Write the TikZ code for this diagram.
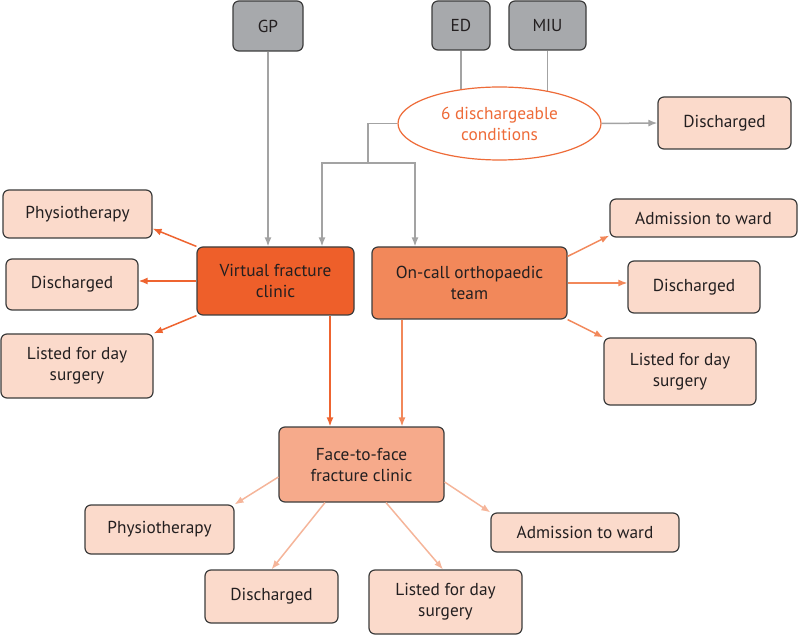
\documentclass[tikz,border=0pt]{standalone}
\usepackage{fontspec}
\setmainfont{PT Sans}
\usetikzlibrary{arrows.meta,shapes.geometric,calc,backgrounds}
\definecolor{txt}{HTML}{231F20}
\definecolor{bord}{HTML}{3C3C3C}
\definecolor{light}{HTML}{FBDACB}
\definecolor{grayfill}{HTML}{A7A9AC}
\definecolor{vfcfill}{HTML}{EE5F2A}
\definecolor{oncfill}{HTML}{F2885A}
\definecolor{ffill}{HTML}{F6AA8B}
\definecolor{gline}{HTML}{A3A3A3}
\definecolor{vline}{HTML}{EE6430}
\definecolor{oline}{HTML}{F2885A}
\definecolor{fline}{HTML}{F5B59A}
\definecolor{ellc}{HTML}{EE6B38}
\tikzset{
  x=1pt,y=-1pt,
  box/.style={draw=bord,line width=1.2pt,rounded corners=6pt,fill=light,text=txt,
    align=center,inner sep=0pt,font=\fontsize{17.3}{21}\selectfont},
  graybox/.style={box,fill=grayfill},
  gl/.style={draw=gline,line width=1.5pt},
  ga/.style={gl,-{Latex[length=9pt,width=7pt]}},
  va/.style={draw=vline,line width=1.5pt,-{Latex[length=9pt,width=7pt]}},
  oa/.style={draw=oline,line width=1.5pt,-{Latex[length=9pt,width=7pt]}},
  fa/.style={draw=fline,line width=1.5pt,-{Latex[length=9pt,width=7pt]}},
}
\begin{document}
\begin{tikzpicture}
\useasboundingbox (0,0) rectangle (798,636);
% top sources
\node[graybox,minimum width=70pt,minimum height=50pt] (gp) at (268,26) {GP};
\node[graybox,minimum width=58pt,minimum height=49pt] (ed) at (461,25.5) {ED};
\node[graybox,minimum width=77pt,minimum height=49pt] (miu) at (547.5,25.5) {MIU};
\node[ellipse,draw=ellc,line width=1.2pt,fill=white,text=ellc,align=center,inner sep=0pt,
  minimum width=203pt,minimum height=73pt,font=\fontsize{17.3}{21}\selectfont] (ell) at (499.5,123.5) {6 dischargeable\\conditions};
\node[box,minimum width=133pt,minimum height=52pt] (dtop) at (724.5,123) {Discharged};
% main
\node[box,fill=vfcfill,minimum width=157pt,minimum height=68pt] (vfc) at (275.5,281) {Virtual fracture\\clinic};
\node[box,fill=oncfill,minimum width=195pt,minimum height=72pt] (onc) at (469.5,283) {On-call orthopaedic\\team};
\node[box,fill=ffill,minimum width=165pt,minimum height=75pt] (f2f) at (361.5,464.5) {Face-to-face\\fracture clinic};
% left outcomes
\node[box,minimum width=149pt,minimum height=48pt] (phys1) at (77.5,214) {Physiotherapy};
\node[box,minimum width=132pt,minimum height=51pt] (dis1) at (72,284.5) {Discharged};
\node[box,minimum width=152pt,minimum height=64pt] (list1) at (77,366) {Listed for day\\surgery};
% right outcomes
\node[box,minimum width=187pt,minimum height=38pt] (adm2) at (703.5,218) {Admission to ward};
\node[box,minimum width=132pt,minimum height=52pt] (dis2) at (694,287) {Discharged};
\node[box,minimum width=152pt,minimum height=67pt] (list2) at (680,371.5) {Listed for day\\surgery};
% bottom outcomes
\node[box,minimum width=149pt,minimum height=49pt] (phys3) at (159.5,529.5) {Physiotherapy};
\node[box,minimum width=133pt,minimum height=53pt] (dis3) at (271.5,596.5) {Discharged};
\node[box,minimum width=153pt,minimum height=64pt] (list3) at (445.5,602) {Listed for day\\surgery};
\node[box,minimum width=188pt,minimum height=39pt] (adm3) at (585,532.5) {Admission to ward};
% gray connectors
\begin{scope}[on background layer]
\draw[gl] (ed.south) -- (ed.south |- ell.center);
\draw[gl] (miu.south) -- (miu.south |- ell.center);
\end{scope}
\coordinate (j) at (368,163);
\coordinate (a1) at (322,163);
\coordinate (a2) at (415,163);
\draw[gl] (ell.west) -| (j);
\draw[ga] (j) -- (a1) -- (a1 |- vfc.north);
\draw[ga] (j) -- (a2) -- (a2 |- onc.north);
\draw[ga] (gp.south) -- (gp.south |- vfc.north);
\draw[ga] (ell.east) -- (dtop.west);
% VFC
\draw[va] (vfc.north west) -- ($(phys1.south east)+(0,-10)$);
\draw[va] (vfc.west) -- (vfc.west -| dis1.east);
\draw[va] (vfc.south west) -- (list1.north east);
\coordinate (v1) at ($(vfc.south)+(54.5,0)$);
\draw[va] (v1) -- (v1 |- f2f.north);
% on-call
\draw[oa] ($(onc.north east)+(0,10)$) -- ($(adm2.south west)+(0,-2)$);
\draw[oa] (onc.east) -- (onc.east -| dis2.west);
\draw[oa] (onc.south east) -- (list2.north west);
\coordinate (o1) at ($(onc.south)+(-67.5,0)$);
\draw[oa] (o1) -- (o1 |- f2f.north);
% face to face
\draw[fa] ($(f2f.west)+(0,12.5)$) -- (phys3.north east);
\draw[fa] ($(f2f.south)+(-36.5,0)$) -- (dis3.north);
\draw[fa] ($(f2f.south)+(24.5,0)$) -- ($(list3.north)+(-2.5,0)$);
\draw[fa] ($(f2f.east)+(0,17.5)$) -- (adm3.north west);
\end{tikzpicture}
\end{document}
